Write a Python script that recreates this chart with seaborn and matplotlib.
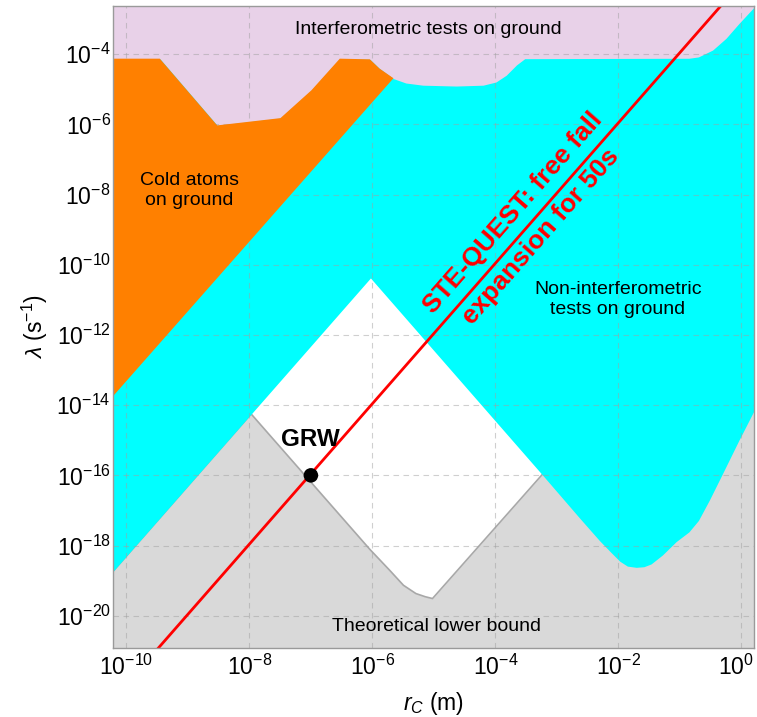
import numpy as np
import matplotlib
matplotlib.use("Agg")
import matplotlib.pyplot as plt
import matplotlib.transforms as mtransforms
import seaborn as sns
import pandas as pd
from matplotlib.ticker import FixedLocator, LogFormatterMathtext, NullLocator

# ---------------- data ----------------
# Theoretical lower bound (upper edge of the grey region)
lb_rc = [6.17e-11, 1.07e-8, 9.1e-7, 1.9e-6, 3.2e-6, 5.1e-6, 7.2e-6, 9.5e-6, 5.9e-4, 1.62]
lb_lam = [1.9e-19, 5.6e-15, 7.8e-19, 2.0e-19, 7.4e-20, 4.3e-20, 3.5e-20, 3.1e-20, 1.1e-16, 3.2e-10]

# Non-interferometric tests on ground (lower edge of the cyan region)
cyan_rc = [6.17e-11, 1.07e-8, 9.3e-7, 5.9e-4, 2.3e-3, 4.9e-3, 7.5e-3, 1.05e-2, 1.4e-2, 1.95e-2,
           2.6e-2, 3.4e-2, 5.2e-2, 8.7e-2, 0.14, 0.20, 0.30, 0.49, 0.91, 1.62]
cyan_lam = [1.9e-19, 5.6e-15, 4.2e-11, 1.0e-16, 6.3e-18, 1.4e-18, 6.5e-19, 3.6e-19, 2.6e-19, 2.4e-19,
            2.5e-19, 3.0e-19, 5.4e-19, 1.3e-18, 2.45e-18, 5.2e-18, 1.95e-17, 1.1e-16, 1.0e-15, 7.2e-15]

# Cold atoms on ground (orange polygon)
orange_rc = [6.17e-11, 6.17e-11, 3.5e-10, 3.0e-9, 3.2e-8, 1.02e-7, 2.95e-7, 9.1e-7, 1.3e-6, 2.2e-6]
orange_lam = [1.86e-14, 7.4e-5, 7.4e-5, 9.3e-7, 1.5e-6, 9.3e-6, 7.4e-5, 7.1e-5, 3.9e-5, 2.05e-5]

# Interferometric tests on ground (lower edge of the purple region)
purple_rc = [6.17e-11, 3.5e-10, 3.0e-9, 3.2e-8, 1.02e-7, 2.95e-7, 9.1e-7, 1.3e-6, 2.2e-6,
             3.5e-6, 6.6e-6, 2.3e-5, 6.3e-5, 1.02e-4, 1.5e-4, 2.2e-4, 3.0e-4,
             0.14, 0.20, 0.34, 0.56, 0.91, 1.62]
purple_lam = [7.4e-5, 7.4e-5, 9.3e-7, 1.5e-6, 9.3e-6, 7.4e-5, 7.1e-5, 3.9e-5, 2.0e-5,
              1.5e-5, 1.3e-5, 1.23e-5, 1.3e-5, 1.6e-5, 2.5e-5, 4.9e-5, 7.4e-5,
              7.6e-5, 8.3e-5, 1.3e-4, 2.8e-4, 7.4e-4, 2.2e-3]

# STE-QUEST free fall expansion line
ste_rc = [1e-11, 1e1]
ste_lam = [1.1e-24, 1.1e0]

# GRW point
grw_rc = [1e-7]
grw_lam = [1e-16]

xticks = [1e-10, 1e-8, 1e-6, 1e-4, 1e-2, 1e0]
yticks = [1e-20, 1e-18, 1e-16, 1e-14, 1e-12, 1e-10, 1e-8, 1e-6, 1e-4]

XMIN, XMAX = 6.17e-11, 1.62
YMIN, YMAX = 1.23e-21, 2.34e-3
FILL_TOP, FILL_BOTTOM = 1e-2, 1e-23

# ---------------- style ----------------
sns.set_theme(style="white")
plt.rcParams['font.family'] = ['Liberation Sans', 'DejaVu Sans']
plt.rcParams['mathtext.fontset'] = 'custom'
plt.rcParams['mathtext.rm'] = 'Liberation Sans'
plt.rcParams['mathtext.it'] = 'Liberation Sans:italic'
plt.rcParams['mathtext.bf'] = 'Liberation Sans:bold'
plt.rcParams['text.color'] = 'black'
plt.rcParams['axes.labelcolor'] = 'black'
plt.rcParams['xtick.color'] = 'black'
plt.rcParams['ytick.color'] = 'black'

fig = plt.figure(figsize=(7.57, 7.17), dpi=100)
ax = fig.add_axes([0.1499, 0.0966, 0.8465, 0.895])
ax.set_xscale('log')
ax.set_yscale('log')

GRAY = '#d9d9d9'
CYAN = '#00ffff'
ORANGE = '#ff8000'
PURPLE = '#e8d1e8'

ax.fill_between(lb_rc, FILL_BOTTOM, lb_lam, color=GRAY, lw=0, zorder=1.0)
ax.plot(lb_rc, lb_lam, color='#a8a8a8', lw=1.2, zorder=1.1)
ax.fill_between(cyan_rc, cyan_lam, FILL_TOP, color=CYAN, lw=0, zorder=1.2)
ax.fill_between(purple_rc, purple_lam, FILL_TOP, color=PURPLE, lw=0, zorder=1.3)
ax.fill(orange_rc, orange_lam, color=ORANGE, lw=0, zorder=3)

line_df = pd.DataFrame({'rc': ste_rc, 'lam': ste_lam})
sns.lineplot(data=line_df, x='rc', y='lam', color='#ff0000', lw=2.0, ax=ax, zorder=4)
grw_df = pd.DataFrame({'rc': grw_rc, 'lam': grw_lam})
sns.scatterplot(data=grw_df, x='rc', y='lam', color='black', s=110, edgecolor='none',
                ax=ax, zorder=5)

ax.set_xlim(XMIN, XMAX)
ax.set_ylim(YMIN, YMAX)

ax.xaxis.set_major_locator(FixedLocator(xticks))
ax.yaxis.set_major_locator(FixedLocator(yticks))
ax.xaxis.set_major_formatter(LogFormatterMathtext())
ax.yaxis.set_major_formatter(LogFormatterMathtext())
ax.xaxis.set_minor_locator(NullLocator())
ax.yaxis.set_minor_locator(NullLocator())
ax.tick_params(axis='both', which='both', length=0, labelsize=16.5, colors='black')
ax.tick_params(axis='x', pad=5)
ax.tick_params(axis='y', pad=2)

ax.set_axisbelow(False)
ax.grid(True, which='major', color='#a0a0a0', alpha=0.5, lw=0.8, linestyle=(0, (5, 4)))

for sp in ax.spines.values():
    sp.set_color('#9a9a9a')
    sp.set_linewidth(1.0)
    sp.set_zorder(6)

ax.set_xlabel(r'$r_C$ (m)', fontsize=16.5, va='center', color='black')
ax.xaxis.set_label_coords(0.5, -0.0862)
ax.set_ylabel(r'$\lambda$ (s$^{-1}$)', fontsize=16.5, va='center', color='black')
ax.yaxis.set_label_coords(-0.1225, 0.5)

# keep the last x tick label inside the canvas
fig.canvas.draw()
last = ax.get_xticklabels()[-1]
last.set_transform(last.get_transform() + mtransforms.ScaledTranslation(-5 / 100, 0, fig.dpi_scale_trans))

# region labels
ax.text(0.491, 0.963, 'Interferometric tests on ground', transform=ax.transAxes,
        ha='center', va='center', fontsize=14, zorder=7, color='black')
ax.text(0.118, 0.713, 'Cold atoms\non ground', transform=ax.transAxes,
        ha='center', va='center', fontsize=14, zorder=7, linespacing=1.25, color='black')
ax.text(0.787, 0.543, 'Non-interferometric\ntests on ground', transform=ax.transAxes,
        ha='center', va='center', fontsize=14, zorder=7, linespacing=1.25, color='black')
ax.text(0.504, 0.033, 'Theoretical lower bound', transform=ax.transAxes,
        ha='center', va='center', fontsize=14, zorder=7, color='black')
ax.text(0.307, 0.325, 'GRW', transform=ax.transAxes, ha='center', va='center',
        fontsize=17.5, fontweight='bold', zorder=7, color='black')

ax.text(0.624, 0.677, 'STE-QUEST: free fall', transform=ax.transAxes, ha='center',
        va='center', rotation=48.8, rotation_mode='anchor', fontsize=19,
        fontweight='bold', color='#ff0000', zorder=7)
ax.text(0.667, 0.640, 'expansion for 50s', transform=ax.transAxes, ha='center',
        va='center', rotation=48.8, rotation_mode='anchor', fontsize=19,
        fontweight='bold', color='#ff0000', zorder=7)

fig.savefig('out.png', dpi=100)
